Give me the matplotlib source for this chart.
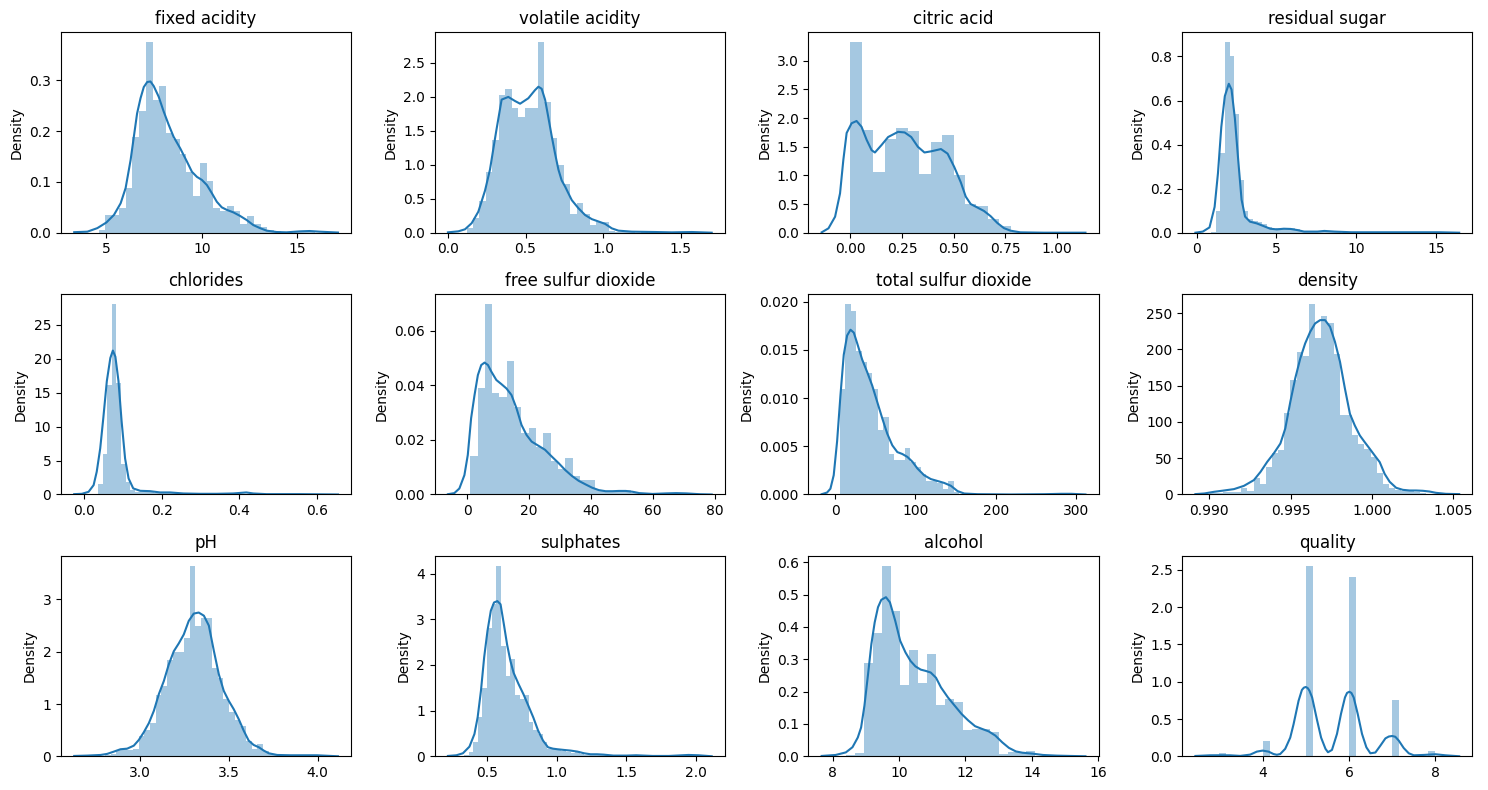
import matplotlib
matplotlib.use("Agg")
import matplotlib.pyplot as plt
import numpy as np

# values (histogram bin heights + kde curve points)

titles = ['fixed acidity', 'volatile acidity', 'citric acid', 'residual sugar',
          'chlorides', 'free sulfur dioxide', 'total sulfur dioxide', 'density',
          'pH', 'sulphates', 'alcohol', 'quality']

# fixed acidity
fa_range = (4.6, 15.9)
fa_hist = [0.005, 0.035, 0.035, 0.049, 0.088, 0.189, 0.239, 0.376, 0.262, 0.289,
           0.197, 0.184, 0.155, 0.120, 0.072, 0.138, 0.102, 0.049, 0.043, 0.053,
           0.043, 0.017, 0.033, 0.017, 0.011, 0.005, 0.003, 0.0015, 0.0, 0.0015,
           0.002, 0.0015]
fa_kde_x = [3.32, 4.01, 4.53, 5.0, 5.40, 5.75, 6.01, 6.27, 6.44, 6.61, 6.79, 6.96, 7.14, 7.31,
            7.48, 7.74, 8.0, 8.26, 8.52, 8.87, 9.22, 9.48, 9.74, 10.0, 10.26, 10.52, 10.78,
            11.04, 11.30, 11.65, 12.0, 12.34, 12.69, 13.04, 13.39, 13.91, 14.43, 15.12,
            15.64, 16.16, 17.12]
fa_kde_y = [0.001, 0.002, 0.009, 0.020, 0.035, 0.058, 0.088, 0.143, 0.189, 0.235, 0.265,
            0.287, 0.297, 0.298, 0.289, 0.268, 0.239, 0.213, 0.189, 0.166, 0.140, 0.120,
            0.110, 0.104, 0.094, 0.078, 0.061, 0.050, 0.045, 0.040, 0.033, 0.025, 0.015,
            0.009, 0.004, 0.0013, 0.0007, 0.0026, 0.0033, 0.002, 0.0003]

# volatile acidity
va_range = (0.12, 1.58)
va_hist = [0.07, 0.21, 0.47, 0.90, 1.36, 2.03, 2.12, 1.83, 1.70, 1.84,
           1.84, 2.81, 1.93, 1.39, 0.99, 0.71, 0.28, 0.44, 0.28, 0.12,
           0.16, 0.16, 0.03, 0.015, 0.005, 0.01, 0.0, 0.005, 0.0, 0.0,
           0.0, 0.0, 0.0, 0.0, 0.01]
va_kde_x = [0.0, 0.067, 0.11, 0.153, 0.196, 0.239, 0.271, 0.31, 0.346, 0.389, 0.432, 0.465,
            0.518, 0.561, 0.583, 0.604, 0.626, 0.647, 0.669, 0.69, 0.712, 0.733, 0.755,
            0.798, 0.841, 0.884, 0.927, 0.97, 1.013, 1.056, 1.099, 1.185, 1.335, 1.443,
            1.572, 1.70]
va_kde_y = [0.005, 0.02, 0.05, 0.14, 0.31, 0.62, 0.93, 1.48, 1.96, 2.0, 1.94, 1.9, 1.98,
            2.1, 2.15, 2.12, 1.96, 1.7, 1.42, 1.17, 0.93, 0.77, 0.68, 0.48, 0.36, 0.26,
            0.2, 0.165, 0.13, 0.064, 0.03, 0.015, 0.01, 0.005, 0.01, 0.0]

# citric acid
ca_range = (0.0, 1.0)
ca_hist = [3.33, 1.79, 1.06, 1.63, 1.83, 1.77, 1.02, 1.58, 1.70, 1.0,
           0.5, 0.465, 0.24, 0.116, 0.02, 0.0, 0.0, 0.006]
ca_kde_x = [-0.139, -0.106, -0.074, -0.050, -0.034, -0.018, 0.006, 0.030, 0.054, 0.079,
            0.103, 0.119, 0.151, 0.183, 0.231, 0.263, 0.295, 0.327, 0.359, 0.391, 0.439,
            0.471, 0.503, 0.535, 0.559, 0.583, 0.615, 0.647, 0.679, 0.712, 0.744, 0.776,
            0.824, 0.936, 1.139]
ca_kde_y = [0.006, 0.076, 0.279, 0.686, 1.27, 1.74, 1.91, 1.95, 1.85, 1.62, 1.44, 1.40,
            1.53, 1.67, 1.76, 1.75, 1.67, 1.5, 1.40, 1.42, 1.46, 1.38, 1.15, 0.88, 0.63,
            0.5, 0.44, 0.38, 0.29, 0.17, 0.08, 0.035, 0.006, 0.0, 0.0]

# residual sugar
rs_range = (0.9, 15.5)
rs_hist = [0.003, 0.10, 0.36, 0.866, 0.80, 0.54, 0.24, 0.10, 0.06, 0.055,
           0.05, 0.04, 0.025, 0.015, 0.02, 0.02, 0.02, 0.02, 0.015, 0.008,
           0.005, 0.005, 0.005, 0.005, 0.008, 0.003, 0.002, 0.002, 0.0, 0.003,
           0.002, 0.003, 0.0, 0.0, 0.0, 0.002, 0.002, 0.0, 0.0, 0.0,
           0.0, 0.0, 0.002, 0.002, 0.0, 0.0, 0.0, 0.0, 0.0, 0.002]
rs_kde_x = [-0.085, 0.38, 0.80, 1.12, 1.33, 1.54, 1.76, 2.01, 2.18, 2.39, 2.60, 2.81, 3.03,
            3.34, 3.77, 4.19, 4.61, 5.03, 5.46, 5.88, 6.30, 6.73, 7.57, 8.0, 8.63, 9.69,
            11.8, 13.92, 15.19, 16.46]
rs_kde_y = [0.0, 0.005, 0.024, 0.117, 0.27, 0.48, 0.62, 0.676, 0.65, 0.52, 0.33, 0.15,
            0.073, 0.05, 0.042, 0.03, 0.018, 0.015, 0.018, 0.017, 0.012, 0.005, 0.005,
            0.008, 0.005, 0.002, 0.002, 0.002, 0.002, 0.0]

# chlorides
cl_range = (0.012, 0.611)
cl_hist = [0.05, 0.1, 1.6, 5.9, 16.1, 28.1, 16.4, 4.5, 1.8, 0.6,
           0.4, 0.3, 0.35, 0.3, 0.2, 0.25, 0.2, 0.15, 0.15, 0.1,
           0.05, 0.05, 0.1, 0.05, 0.0, 0.05, 0.05, 0.05, 0.05, 0.15,
           0.2, 0.05, 0.0, 0.05, 0.0, 0.0, 0.0, 0.0, 0.0, 0.0,
           0.0, 0.0, 0.05, 0.0, 0.0, 0.0, 0.0, 0.05, 0.0, 0.05]
cl_kde_x = [-0.025, -0.005, 0.012, 0.025, 0.033, 0.042, 0.050, 0.059, 0.068, 0.0745, 0.081,
            0.089, 0.097, 0.106, 0.115, 0.127, 0.145, 0.170, 0.196, 0.222, 0.256, 0.299,
            0.342, 0.384, 0.418, 0.436, 0.47, 0.555, 0.654]
cl_kde_y = [0.05, 0.1, 0.39, 1.38, 3.35, 6.8, 11.3, 16.7, 20.1, 21.2, 20.3, 16.7, 10.8,
            5.3, 2.36, 0.89, 0.54, 0.49, 0.3, 0.3, 0.15, 0.1, 0.1, 0.15, 0.3, 0.15, 0.05,
            0.05, 0.0]

# free sulfur dioxide
fs_range = (1, 72)
fs_hist = [0.0142, 0.039, 0.070, 0.0374, 0.0356, 0.049, 0.032, 0.0227, 0.0245, 0.0175,
           0.0227, 0.0124, 0.0095, 0.0135, 0.0068, 0.0052, 0.0052, 0.0018, 0.0012, 0.0012,
           0.0012, 0.0018, 0.0005, 0.0, 0.0, 0.0, 0.0003, 0.0005, 0.0005, 0.0003]
fs_kde_x = [-6.2, -4.13, -2.5, -0.87, 0.22, 1.30, 2.39, 3.48, 4.57, 5.65, 6.74, 7.83, 9.46,
            11.09, 12.72, 14.35, 15.98, 17.6, 19.24, 20.87, 23.04, 25.2, 27.4, 29.6, 31.7,
            33.9, 36.1, 38.3, 40.4, 42.6, 44.8, 47.0, 49.1, 51.3, 53.5, 55.7, 60.0, 64.3,
            67.6, 70.9, 75.2, 79.1]
fs_kde_y = [0.0001, 0.0005, 0.0022, 0.0071, 0.0145, 0.0280, 0.0364, 0.0438, 0.0475, 0.0484,
            0.0475, 0.0451, 0.0420, 0.0405, 0.0389, 0.0365, 0.0316, 0.0255, 0.0218, 0.0194,
            0.0179, 0.0164, 0.0139, 0.0115, 0.0090, 0.0068, 0.0050, 0.0037, 0.0025, 0.0016,
            0.0012, 0.0012, 0.0013, 0.0013, 0.001, 0.0005, 0.0002, 0.0004, 0.0005, 0.0004,
            0.0001, 0.0]

# total sulfur dioxide
ts_range = (6, 289)
ts_hist = [0.0109, 0.0198, 0.0190, 0.0149, 0.0138, 0.0126, 0.0109, 0.0067, 0.0080, 0.0042,
           0.0036, 0.0036, 0.0048, 0.0034, 0.0029, 0.0021, 0.0014, 0.0014, 0.0012, 0.0006,
           0.0014, 0.0003, 0.0001, 0.0, 0.0, 0.0, 0.0, 0.0, 0.0, 0.0,
           0.0, 0.0, 0.0, 0.0, 0.0, 0.0, 0.0, 0.0, 0.0, 0.0,
           0.0001, 0.0001]
ts_kde_x = [-16.7, -10.0, -5.8, -1.7, 2.5, 6.7, 10.8, 15.0, 19.2, 23.3, 27.5, 33.75, 40.0,
            46.25, 52.5, 58.75, 65.0, 71.25, 77.5, 83.75, 90.0, 96.25, 102.5, 110.8, 119.2,
            127.5, 135.8, 144.2, 152.5, 160.8, 177.5, 219.2, 260.8, 281.7, 294.2, 311.7]
ts_kde_y = [0.00003, 0.0002, 0.0006, 0.002, 0.0055, 0.0103, 0.0145, 0.0165, 0.0171, 0.0168,
            0.0157, 0.0140, 0.0127, 0.0113, 0.0096, 0.0079, 0.0063, 0.0051, 0.0044, 0.0042,
            0.0039, 0.0034, 0.0027, 0.002, 0.0016, 0.0014, 0.0012, 0.0009, 0.00035, 0.0001,
            0.00003, 0.0, 0.00003, 0.00007, 0.00007, 0.0]

# density
de_range = (0.99007, 1.00369)
de_hist = [1.5, 2, 3, 4, 4, 9, 5, 23, 14, 38,
           57, 62, 112, 158, 197, 191, 263, 216, 246, 236,
           193, 110, 109, 82, 70, 63, 52, 29, 15, 9,
           5.5, 4.6, 4.6, 3.7, 2.3, 0.5]
de_kde_x = [0.98915, 0.98970, 0.99030, 0.99091, 0.99152, 0.99213, 0.99274, 0.99315, 0.99356,
            0.99396, 0.99437, 0.99467, 0.99498, 0.99528, 0.99559, 0.99589, 0.99620, 0.99650,
            0.99681, 0.99711, 0.99742, 0.99772, 0.99803, 0.99833, 0.99864, 0.99894, 0.99925,
            0.99955, 0.99986, 1.00016, 1.00047, 1.00077, 1.00108, 1.00148, 1.00189, 1.00230,
            1.00270, 1.00311, 1.00352, 1.00392, 1.00453, 1.00535]
de_kde_y = [0.5, 1.4, 3.7, 5.5, 7.4, 11.9, 19.8, 31.2, 45.0, 56.5, 70.3, 91.0, 127.8, 160.0,
            187.5, 208.2, 224.3, 235.8, 240.4, 240.4, 231.2, 210.5, 183.0, 146.3, 111.2, 95.1,
            81.3, 72.1, 62.9, 53.8, 44.6, 28.5, 17.5, 9.2, 6.4, 5.5, 5.5, 5.1, 4.1, 2.3,
            0.9, 0.5]

# pH
ph_range = (2.74, 4.01)
ph_hist = [0.02, 0.0, 0.02, 0.04, 0.12, 0.14, 0.12, 0.14, 0.38, 0.5,
           0.64, 1.17, 1.35, 1.84, 2.0, 2.0, 2.26, 3.65, 2.49, 2.64,
           2.64, 1.68, 1.5, 1.09, 0.85, 0.70, 0.58, 0.30, 0.14, 0.235,
           0.11, 0.045, 0.02, 0.02, 0.0, 0.02, 0.0, 0.0, 0.02, 0.02]
ph_kde_x = [2.631, 2.704, 2.779, 2.816, 2.854, 2.891, 2.929, 2.966, 2.994, 3.022, 3.051,
            3.079, 3.107, 3.135, 3.163, 3.191, 3.219, 3.247, 3.275, 3.303, 3.331, 3.36,
            3.388, 3.416, 3.444, 3.472, 3.5, 3.528, 3.556, 3.584, 3.612, 3.64, 3.669,
            3.697, 3.725, 3.772, 3.846, 3.903, 3.996, 4.114]
ph_kde_y = [0.006, 0.013, 0.025, 0.045, 0.089, 0.134, 0.146, 0.203, 0.311, 0.458, 0.636,
            0.871, 1.19, 1.44, 1.76, 2.01, 2.16, 2.33, 2.59, 2.73, 2.75, 2.69, 2.50, 2.02,
            1.57, 1.25, 1.06, 0.90, 0.71, 0.49, 0.30, 0.216, 0.172, 0.108, 0.057, 0.025,
            0.019, 0.019, 0.019, 0.0]

# sulphates
su_range = (0.33, 2.0)
su_hist = [0.03, 0.1, 0.32, 0.87, 1.49, 2.82, 3.33, 4.18, 2.42, 1.76,
           2.13, 1.35, 1.25, 1.34, 0.74, 0.58, 0.49, 0.31, 0.16, 0.16,
           0.16, 0.12, 0.10, 0.08, 0.12, 0.05, 0.03, 0.03, 0.05, 0.02,
           0.03, 0.0, 0.01, 0.0, 0.0, 0.0, 0.02, 0.02, 0.0, 0.0,
           0.0, 0.0, 0.0, 0.0, 0.0, 0.0, 0.0, 0.02, 0.02, 0.02]
su_kde_x = [0.215, 0.276, 0.323, 0.370, 0.406, 0.429, 0.453, 0.476, 0.5, 0.524, 0.547,
            0.571, 0.594, 0.618, 0.641, 0.665, 0.688, 0.724, 0.759, 0.794, 0.830, 0.865,
            0.900, 0.936, 0.971, 1.006, 1.053, 1.100, 1.148, 1.195, 1.242, 1.289, 1.336,
            1.407, 1.501, 1.571, 1.689, 1.807, 1.948, 2.019, 2.115]
su_kde_y = [0.007, 0.022, 0.066, 0.211, 0.488, 0.853, 1.44, 2.17, 2.75, 3.19, 3.37, 3.40,
            3.33, 2.89, 2.45, 2.09, 1.83, 1.58, 1.36, 1.11, 0.85, 0.56, 0.343, 0.197, 0.167,
            0.153, 0.138, 0.124, 0.102, 0.066, 0.044, 0.044, 0.036, 0.015, 0.015, 0.022,
            0.007, 0.007, 0.029, 0.022, 0.0]

# alcohol
al_range = (8.4, 14.9)
al_hist = [0.005, 0.009, 0.29, 0.38, 0.59, 0.45, 0.22, 0.33, 0.227, 0.316,
           0.159, 0.178, 0.167, 0.082, 0.085, 0.085, 0.075, 0.007, 0.012, 0.014,
           0.015, 0.002, 0.0, 0.002]
al_kde_x = [7.66, 8.08, 8.39, 8.59, 8.75, 8.85, 8.95, 9.06, 9.16, 9.26, 9.36, 9.46, 9.60,
            9.72, 9.88, 10.03, 10.19, 10.34, 10.49, 10.65, 10.80, 10.95, 11.11, 11.26, 11.47,
            11.67, 11.88, 12.08, 12.29, 12.49, 12.70, 12.90, 13.11, 13.31, 13.52, 13.72,
            14.03, 14.34, 14.75, 15.16, 15.62]
al_kde_y = [0.001, 0.004, 0.012, 0.028, 0.058, 0.089, 0.156, 0.254, 0.347, 0.414, 0.461,
            0.484, 0.492, 0.476, 0.419, 0.357, 0.321, 0.295, 0.278, 0.268, 0.264, 0.259,
            0.243, 0.213, 0.182, 0.157, 0.131, 0.111, 0.093, 0.085, 0.077, 0.064, 0.043,
            0.026, 0.015, 0.011, 0.008, 0.004, 0.002, 0.001, 0.0]

# quality
qu_range = (3, 8)
qu_hist = [0.04, 0, 0, 0, 0, 0,
           0.205, 0, 0, 0, 0, 0,
           2.56, 0, 0, 0, 0, 0,
           2.40, 0, 0, 0, 0, 0,
           0.76, 0, 0, 0, 0, 0.067]
qu_kde_x = [2.448, 2.788, 3.004, 3.251, 3.483, 3.714, 3.869, 4.0, 4.139, 4.255, 4.332, 4.409,
            4.525, 4.641, 4.718, 4.834, 4.911, 4.955, 5.0, 5.045, 5.085, 5.147, 5.263, 5.355,
            5.456, 5.514, 5.606, 5.722, 5.815, 5.907, 5.955, 6.008, 6.055, 6.108, 6.201,
            6.301, 6.402, 6.494, 6.610, 6.726, 6.842, 6.92, 6.996, 7.07, 7.151, 7.266, 7.382,
            7.498, 7.730, 8.0, 8.232, 8.548]
qu_kde_y = [0.004, 0.013, 0.0135, 0.013, 0.005, 0.022, 0.0625, 0.076, 0.0625, 0.03, 0.02,
            0.03, 0.10, 0.25, 0.43, 0.745, 0.89, 0.92, 0.93, 0.915, 0.88, 0.79, 0.48, 0.25,
            0.10, 0.054, 0.085, 0.30, 0.57, 0.79, 0.85, 0.866, 0.85, 0.79, 0.57,
            0.30, 0.12, 0.04, 0.05, 0.143, 0.24, 0.265, 0.272, 0.262, 0.21, 0.11, 0.04,
            0.013, 0.018, 0.027, 0.013, 0.0]

ranges = [fa_range, va_range, ca_range, rs_range, cl_range, fs_range,
          ts_range, de_range, ph_range, su_range, al_range, qu_range]
hists = [fa_hist, va_hist, ca_hist, rs_hist, cl_hist, fs_hist,
         ts_hist, de_hist, ph_hist, su_hist, al_hist, qu_hist]
kde_xs = [fa_kde_x, va_kde_x, ca_kde_x, rs_kde_x, cl_kde_x, fs_kde_x,
          ts_kde_x, de_kde_x, ph_kde_x, su_kde_x, al_kde_x, qu_kde_x]
kde_ys = [fa_kde_y, va_kde_y, ca_kde_y, rs_kde_y, cl_kde_y, fs_kde_y,
          ts_kde_y, de_kde_y, ph_kde_y, su_kde_y, al_kde_y, qu_kde_y]

fig, axes = plt.subplots(3, 4, figsize=(14.88, 7.9), dpi=100)
plt.subplots_adjust(left=0.041, right=0.9895, top=0.959, bottom=0.0427,
                    wspace=0.288, hspace=0.307)

for i, ax in enumerate(axes.flat):
    heights = hists[i]
    edges = np.linspace(ranges[i][0], ranges[i][1], len(heights) + 1)
    ax.bar(edges[:-1], heights, width=np.diff(edges), align='edge',
           color='C0', alpha=0.4, linewidth=0)
    ax.plot(kde_xs[i], kde_ys[i], color='C0', linewidth=1.5)
    ax.set_title(titles[i])
    ax.set_ylabel('Density')

plt.savefig('out.png', dpi=100)
